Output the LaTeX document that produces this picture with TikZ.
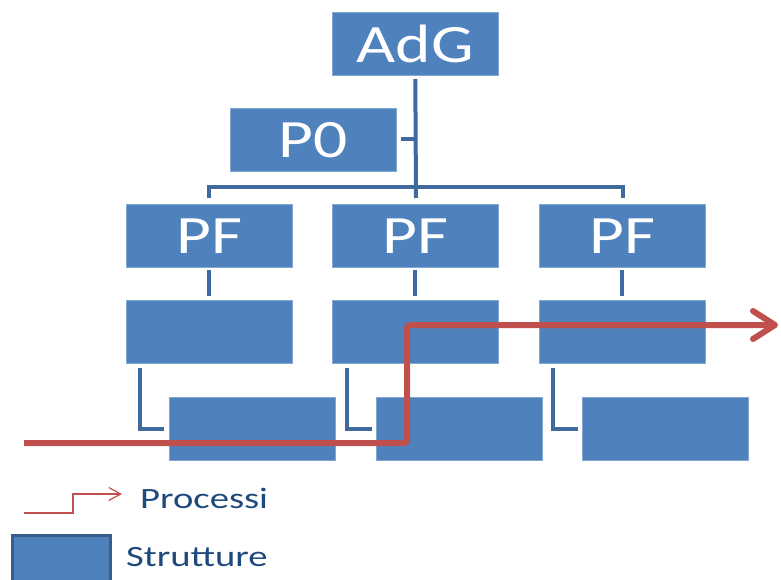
\documentclass[tikz,border=0pt]{standalone}
\usepackage{fontspec}
\setmainfont{Carlito}
\usetikzlibrary{arrows.meta}
\definecolor{boxblue}{HTML}{4F81BD}
\definecolor{linkblue}{HTML}{3E6A9E}
\definecolor{procred}{HTML}{C0504D}
\definecolor{textblue}{HTML}{1F497D}
\definecolor{edgeblue}{HTML}{385D8A}
\tikzset{
  orgbox/.style={fill=boxblue, draw=boxblue!70!white, line width=0.6pt, minimum width=166pt, minimum height=63pt, inner sep=0pt, anchor=north west, text=white, font=\fontsize{54}{54}\selectfont},
  link/.style={draw=linkblue, line width=4pt},
  proc/.style={draw=procred, line width=6pt, rounded corners=3pt, line cap=butt, -{Straight Barb[length=22pt,width=28pt,round,line width=6pt]}},
  legproc/.style={draw=procred, line width=1.4pt, -{Straight Barb[length=12pt,width=13pt,line width=1.2pt]}},
  legtext/.style={text=textblue, font=\fontsize{29.5}{29.5}\selectfont, anchor=west, inner sep=0pt},
}
\newcommand{\wide}[1]{\scalebox{1.25}[1]{#1}}
\newcommand{\legwide}[1]{\scalebox{1.31}[1]{#1}}
\begin{document}
\begin{tikzpicture}[x=1pt,y=-1pt]
\useasboundingbox (0,0) rectangle (781,580);
% boxes
\node[orgbox] (adg) at (332,12) {\wide{AdG}};
\node[orgbox] (p0) at (230,108) {\wide{P0}};
\node[orgbox] (pf1) at (126,204) {\wide{PF}};
\node[orgbox] (pf2) at (332,204) {\wide{PF}};
\node[orgbox] (pf3) at (539,204) {\wide{PF}};
\node[orgbox] (m1) at (126,300) {};
\node[orgbox] (m2) at (332,300) {};
\node[orgbox] (m3) at (539,300) {};
\node[orgbox] (b1) at (169,397) {};
\node[orgbox] (b2) at (376,397) {};
\node[orgbox] (b3) at (582,397) {};
% connectors
\draw[link] (adg.south |- 0,79) -- (416,198);
\draw[link] (401,139) -- (416,139);
\draw[link] (209,198) -- (209,187) -- (623,187) -- (623,198);
\draw[link] (pf1.south |- 0,270) -- (m1.north |- 0,296);
\draw[link] (pf2.south |- 0,270) -- (m2.north |- 0,296);
\draw[link] (pf3.south |- 0,270) -- (m3.north |- 0,296);
\draw[link] (140,368) -- (140,429) -- (164,429);
\draw[link] (347,368) -- (347,429) -- (372,429);
\draw[link] (553,368) -- (553,429) -- (578,429);
% process line
\coordinate (pstart) at (24,443);
\coordinate (pend) at (778,325);
\draw[proc] (pstart) -- (407,443) -- (407,325) -- (pend);
% legend
\coordinate (lstart) at (24,513);
\coordinate (lend) at (122,494);
\draw[legproc] (lstart) -- (73,513) -- (73,494) -- (lend);
\node[legtext] (lp) at (140,498) {\legwide{Processi}};
\node[fill=boxblue, draw=edgeblue, line width=3pt, minimum width=98pt, minimum height=52pt, anchor=north west, inner sep=0pt] (lbox) at (11,533.5) {};
\node[legtext] (ls) at (126,557) {\legwide{Strutture}};
\end{tikzpicture}
\end{document}
